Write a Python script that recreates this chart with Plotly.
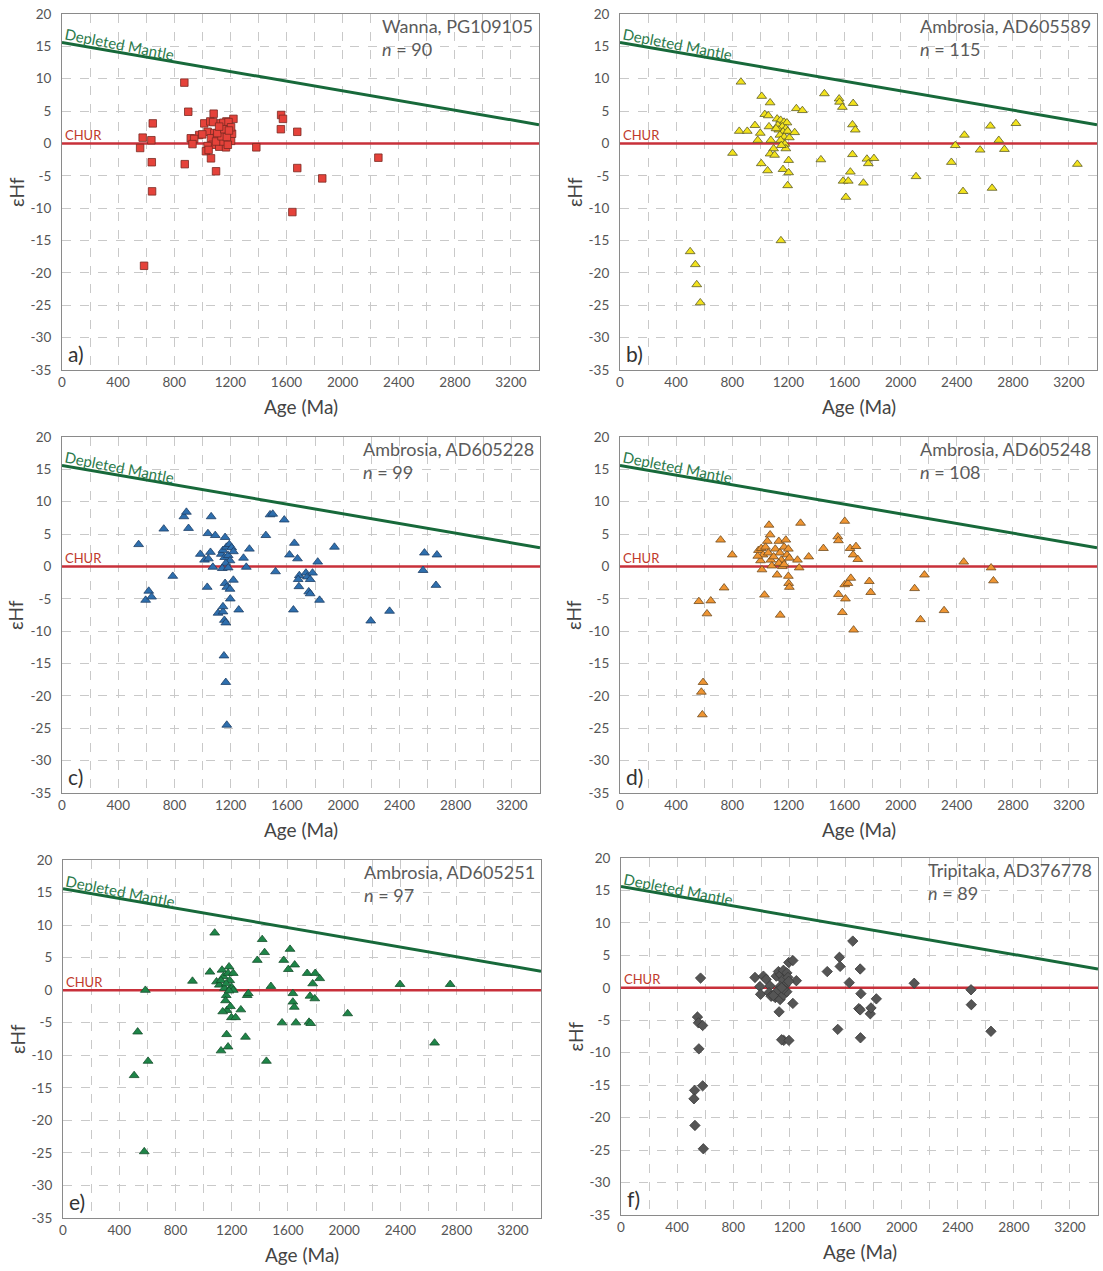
import plotly.graph_objects as go

# ---------------- data ----------------
dm_age = [0, 3400]
dm_ehf = [15.6, 2.9]
chur_age = [0, 3400]
chur_ehf = [0, 0]

x_ticks = [0, 400, 800, 1200, 1600, 2000, 2400, 2800, 3200]
y_ticks = [20, 15, 10, 5, 0, -5, -10, -15, -20, -25, -30, -35]

titles = ["Wanna, PG109105", "Ambrosia, AD605589", "Ambrosia, AD605228",
          "Ambrosia, AD605248", "Ambrosia, AD605251", "Tripitaka, AD376778"]
counts = [90, 115, 99, 108, 97, 89]
letters = ["a)", "b)", "c)", "d)", "e)", "f)"]

age_a = [872, 900, 875, 575, 557, 637, 647, 640, 642, 585, 1385, 1562, 1575, 1560, 1677,
         1677, 1855, 1642, 2255,
         1081, 1014, 1057, 1129, 1172, 1222, 1038, 1086, 1129, 1182, 1193, 978, 918, 942,
         930, 1062, 1105, 1157, 1205, 1074, 1121, 1169, 1038, 1026, 1062, 1098, 1146, 1182,
         1098, 1150, 1187, 1137, 1212, 1175, 1107, 1077, 1000, 1157, 1205, 1045, 1120, 1190]
ehf_a = [9.4, 4.9, -3.2, 0.9, -0.7, 0.5, 3.1, -2.9, -7.4, -18.9, -0.6, 4.4, 3.8, 2.2, 1.8,
         -3.8, -5.4, -10.6, -2.2,
         4.6, 3.1, 3.4, 3.1, 3.4, 3.8, 1.8, 1.6, 2.1, 2.5, 1.6, 1.3, 0.8, 0.7,
         -0.1, 0.8, 1.0, 0.7, 0.4, -0.2, -0.5, -0.6, -0.4, -1.2, -2.3, -4.3, 0.3, -0.2,
         0.3, 3.2, 3.3, 1.1, 1.5, 1.0, 1.6, 3.3, 1.4, 2.2, 2.5, -1.0, 2.6, 2.0]

age_b = [862, 1010, 1070, 1032, 1057, 962, 850, 907, 1000, 982, 1062, 1075, 1095, 1070, 1102,
         802, 1007, 1052, 1162, 1202, 1202, 1195, 1147,
         1120, 1145, 1170, 1190, 1125, 1157, 1182, 1132, 1162, 1195, 1140, 1170, 1207, 1145,
         1175, 1182, 1150, 1112, 1245,
         1257, 1300, 1457, 1562, 1565, 1585, 1662, 1657, 1677, 1657, 1432, 1590, 1627, 1642,
         1610, 1735, 1760, 1770, 1810, 2110, 2362, 2390, 2455, 2445, 2567, 2640, 2652, 2700,
         2740, 2822, 3260, 500, 537, 547, 572]
ehf_b = [9.5, 7.3, 6.3, 4.5, 4.3, 2.8, 1.9, 1.9, 1.6, 0.5, 2.6, 0.5, -0.8, -1.6, -1.8,
         -1.5, -3.1, -4.2, -4.0, -2.6, -4.5, -6.5, -15.0,
         3.8, 3.6, 3.3, 3.2, 2.8, 2.6, 2.3, 2.1, 1.8, 1.9, 1.3, 1.0, 0.9, 0.5,
         -0.1, -0.8, -0.3, 2.3, 1.7,
         5.4, 5.1, 7.7, 6.9, 6.4, 5.6, 6.2, 2.9, 2.1, -1.7, -2.5, -5.8, -5.8, -4.4,
         -8.3, -6.1, -2.4, -3.1, -2.3, -5.1, -2.9, -0.3, 1.3, -7.4, -1.0, 2.7, -6.9, 0.5,
         -0.9, 3.1, -3.2, -16.7, -18.7, -21.8, -24.6]

age_c = [545, 617, 595, 637, 724, 788, 867, 885, 900, 1061, 1038, 1090, 984, 1014, 1041,
         1056, 1073, 1033, 1110, 1145, 1145, 1155, 1165, 1152, 1165, 1172, 1160,
         1133, 1145, 1170, 1190, 1207, 1157, 1182, 1195, 1165, 1140, 1182, 1219,
         1160, 1172, 1195, 1197, 1219, 1257, 1291, 1311, 1333, 1450, 1480, 1499, 1519,
         1581, 1618, 1653, 1675, 1646, 1688, 1680, 1685, 1735, 1745, 1765, 1782, 1755,
         1765, 1819, 1832, 1938, 2196, 2330, 2568, 2578, 2667, 2660]
ehf_c = [3.4, -3.8, -5.2, -4.7, 5.8, -1.5, 7.7, 8.4, 5.9, 7.7, 5.1, 4.8, 1.9, 1.0, 1.2,
         2.2, -0.1, -3.2, -7.2, -7.0, -6.2, -8.3, -8.7, -13.8, -17.9, -24.5, 4.5,
         1.9, 2.5, 3.0, 3.4, 2.9, 1.4, 1.7, 0.9, 0.5, -0.3, -0.2, 2.3,
         -2.6, -3.2, -3.5, -5.0, -2.1, -6.7, 1.3, -0.1, 2.7, 4.8, 8.0, 8.1, -0.8,
         7.2, 1.8, 3.6, 1.2, -6.7, -1.4, -2.0, -3.1, -1.0, -1.6, -2.0, -1.0, -3.9,
         -4.2, 0.7, -5.2, 3.0, -8.4, -6.9, -0.6, 2.1, 1.8, -2.9]

age_d = [562, 647, 620, 592, 580, 587, 717, 742, 800, 1062, 1070, 1050,
         987, 1007, 1020, 1002, 1012, 1037, 1057, 1075, 1082, 1107, 1120, 1132, 1140, 1150,
         1157, 1170, 1182, 1190, 1200, 1207, 982, 1095, 1132, 1170,
         1200, 1202, 1207, 1142, 1030, 1265, 1277, 1287, 1345, 1450, 1552, 1557, 1557, 1585,
         1602, 1602, 1607, 1625, 1640, 1645, 1662, 1665, 1682, 1695, 1777, 1787, 2100, 2142,
         2170, 2310, 2450, 2645, 2662]
ehf_d = [-5.4, -5.3, -7.3, -17.9, -19.4, -22.9, 4.1, -3.3, 1.8, 6.4, 4.9, 3.9,
         2.5, 2.8, 1.8, 0.9, -0.5, 3.0, 2.1, 1.0, 0.1, 2.7, -1.3, 3.9, 2.1, 1.0,
         0.0, 3.0, 4.1, 1.8, 2.7, 1.3, 1.6, 1.5, 0.5, 0.3,
         -1.5, -2.6, -3.2, -7.5, -4.4, 1.0, -0.2, 6.7, 1.5, 2.8, 4.6, 4.0, -4.3, -7.1,
         7.0, -2.8, -5.0, -2.6, 2.8, -1.8, 1.8, -9.8, 3.1, 1.1, -2.3, -4.0, -3.4, -8.2,
         -1.3, -6.8, 0.7, -0.2, -2.2]

age_e = [506, 531, 578, 586, 605, 921, 1045, 1079, 1124, 1174, 1164,
         1092, 1112, 1131, 1141, 1149, 1161, 1174, 1181, 1186, 1198, 1211, 1156, 1166, 1191,
         1198, 1228, 1136, 1124, 1161, 1211, 1181,
         1265, 1298, 1310, 1318, 1382, 1417, 1434, 1447, 1479, 1558, 1570, 1603, 1615, 1635,
         1635, 1645, 1648, 1657, 1737, 1750, 1757, 1762, 1776, 1791, 1794, 1826, 2025, 2397,
         2643, 2754]
ehf_e = [-13.1, -6.4, -24.8, 0.0, -10.9, 1.4, 2.8, 8.8, -9.3, -8.7, -6.8,
         1.3, 0.8, 3.1, 2.1, 0.3, -0.8, 2.6, 3.6, 1.5, 0.5, 2.6, -1.6, -3.1, -2.5,
         -4.2, -4.2, -3.3, 1.5, 1.0, 0.0, -0.1,
         -3.0, -7.2, -0.8, -0.5, 4.6, 7.8, 5.8, -10.9, 0.6, -5.0, 4.6, 3.2, 6.3, -0.5,
         -1.8, -2.6, 3.9, -5.0, 2.6, -4.9, -0.9, -5.1, 1.0, -1.3, 2.6, 1.8, -3.6, 0.9,
         -8.1, 0.9]

age_f = [567, 545, 552, 582, 555, 582, 525, 520, 527, 587,
         955, 1015, 1035, 1062, 990, 995, 1055, 1070, 1100, 1107, 1122, 1139, 1158, 1182,
         1153, 1170, 1134, 1110, 1086, 1134, 1158, 1196, 1225, 1250, 1225, 1127, 1182, 1158,
         1190, 1195, 1145, 1160, 1145, 1197,
         1470, 1557, 1562, 1545, 1627, 1652, 1705, 1710, 1695, 1705, 1707, 1777, 1782, 1820,
         2090, 2495, 2497, 2637]
ehf_f = [1.5, -4.5, -5.4, -5.8, -9.4, -15.1, -15.8, -17.1, -21.2, -24.8,
         1.6, 1.8, 1.3, 0.3, 0.2, -1.0, -0.75, -1.3, -1.5, 1.8, 2.5, 2.0, 2.7, 2.3,
         1.2, 0.4, 0.2, -0.6, -1.2, -1.8, -1.1, 3.9, 4.2, 1.1, -2.4, -3.7, -0.6, -0.2,
         1.6, 1.0, 0.0, -8.1, -8.0, -8.1,
         2.5, 4.7, 3.3, -6.4, 0.8, 7.2, 2.9, -0.9, -3.2, -3.4, -7.7, -4.0, -3.1, -1.7,
         0.7, -0.3, -2.6, -6.7]

ages = [age_a, age_b, age_c, age_d, age_e, age_f]
ehfs = [ehf_a, ehf_b, ehf_c, ehf_d, ehf_e, ehf_f]

# ---------------- styling ----------------
W, H = 1103, 1271
px_x = [(62, 539), (620, 1097), (62, 540), (620, 1097), (63, 541), (621, 1098)]
px_y = [(14, 370), (14, 370), (437, 793), (437, 793), (860, 1218), (858, 1215)]

symbols = ["square", "triangle-up", "triangle-up", "triangle-up", "triangle-up", "diamond"]
fills = ["#E5423A", "#F2E21C", "#2E6FAE", "#EF9532", "#1E8548", "#555555"]
edges = ["#7A2A22", "#5A5A2A", "#1E3F66", "#6E4A1E", "#174F2C", "#3A3A3A"]
sizes = [7.5, 8.5, 8.5, 8.5, 8.5, 8]

FONT = "Lato, 'Open Sans', sans-serif"
GRID = "#c9c9c9"

fig = go.Figure()
annotations = []
layout = dict(width=W, height=H, autosize=False,
              margin=dict(l=0, r=0, t=0, b=0, pad=0, autoexpand=False),
              paper_bgcolor="white", plot_bgcolor="white", showlegend=False,
              font=dict(family=FONT, color="#555555"))

for i in range(6):
    n = i + 1
    xa = "x" if n == 1 else f"x{n}"
    ya = "y" if n == 1 else f"y{n}"
    xkey = "xaxis" if n == 1 else f"xaxis{n}"
    ykey = "yaxis" if n == 1 else f"yaxis{n}"
    x0, x1 = px_x[i]
    y0, y1 = px_y[i]
    layout[xkey] = dict(
        domain=[x0 / W, x1 / W], anchor=ya, range=[0, 3400], automargin=False,
        tickmode="array", tickvals=x_ticks, ticktext=[str(v) for v in x_ticks],
        showgrid=True, gridcolor=GRID, griddash="dash", gridwidth=1,
        minor=dict(tickmode="linear", tick0=0, dtick=200, showgrid=True,
                   gridcolor=GRID, griddash="dash", gridwidth=1),
        showline=True, linecolor="#8a8a8a", linewidth=1, mirror=True,
        zeroline=False, ticks="", tickfont=dict(size=13.5, color="#555555", family=FONT),
    )
    layout[ykey] = dict(
        domain=[1 - y1 / H, 1 - y0 / H], anchor=xa, range=[-35, 20], automargin=False,
        tickmode="array", tickvals=y_ticks, ticktext=[str(v) for v in y_ticks],
        showgrid=True, gridcolor=GRID, griddash="dash", gridwidth=1,
        showline=True, linecolor="#8a8a8a", linewidth=1, mirror=True,
        zeroline=False, ticks="", ticklabelstandoff=7,
        tickfont=dict(size=13.5, color="#555555", family=FONT),
    )

    fig.add_trace(go.Scatter(x=chur_age, y=chur_ehf, mode="lines", xaxis=xa, yaxis=ya,
                             line=dict(color="#C8303A", width=2.5), hoverinfo="skip"))
    fig.add_trace(go.Scatter(x=dm_age, y=dm_ehf, mode="lines", xaxis=xa, yaxis=ya,
                             line=dict(color="#17693A", width=3), hoverinfo="skip"))
    fig.add_trace(go.Scatter(x=ages[i], y=ehfs[i], mode="markers", xaxis=xa, yaxis=ya,
                             marker=dict(symbol=symbols[i], size=sizes[i], color=fills[i],
                                         line=dict(color=edges[i], width=0.8))))

    dom_x = f"{xa} domain"
    dom_y = f"{ya} domain"
    annotations += [
        dict(xref=dom_x, yref=dom_y, x=1, y=1, xanchor="right", yanchor="top",
             xshift=-4, yshift=1, align="left", showarrow=False,
             text=f"{titles[i]}<br><i>n</i> = {counts[i]}",
             font=dict(size=18, color="#5a5a5a", family=FONT)),
        dict(xref=dom_x, yref=dom_y, x=0, y=0, xanchor="left", yanchor="bottom",
             xshift=4, yshift=2, showarrow=False, text=letters[i],
             font=dict(size=21, color="#333333", family=FONT)),
        dict(xref=xa, yref=ya, x=410, y=15.3, showarrow=False, text="Depleted Mantle",
             textangle=11, font=dict(size=15, color="#2B7A4B", family=FONT)),
        dict(xref=xa, yref=ya, x=150, y=1.3, showarrow=False, text="CHUR",
             font=dict(size=13, color="#C0392B", family=FONT)),
        dict(xref=dom_x, yref=dom_y, x=0.5, y=0, xanchor="center", yanchor="middle",
             yshift=-36, showarrow=False, text="Age (Ma)",
             font=dict(size=19, color="#444444", family=FONT)),
        dict(xref=dom_x, yref=dom_y, x=0, y=0.5, xanchor="center", yanchor="middle",
             xshift=-46, showarrow=False, text="εHf", textangle=-90,
             font=dict(size=19, color="#444444", family=FONT)),
    ]

layout["annotations"] = annotations
fig.update_layout(**layout)
fig.write_html(
    "out.html",
    config={"displayModeBar": False},
    post_script="document.body.style.margin='0';document.body.style.padding='0';"
                "document.body.style.overflow='hidden';",
)
